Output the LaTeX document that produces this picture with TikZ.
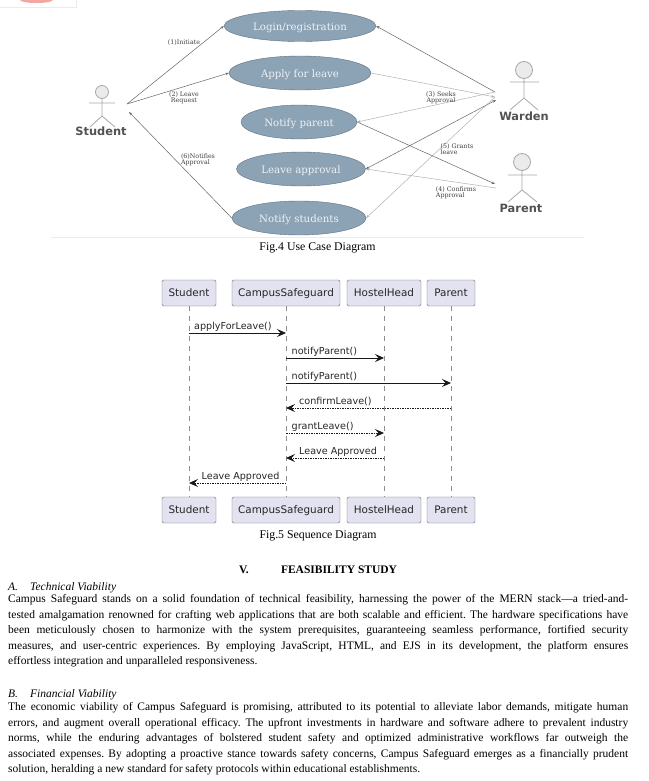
\documentclass[tikz,border=0pt]{standalone}
\usepackage{fontspec}
\usepackage{xcolor}
\setmainfont{Liberation Serif}
\newfontfamily\umlsans{DejaVu Sans}
\newfontfamily\umlserif{DejaVu Serif}
\definecolor{casecolor}{HTML}{8CA3B5}
\definecolor{caseborder}{HTML}{5E7284}
\definecolor{boxcolor}{HTML}{E2E2F0}
\definecolor{boxborder}{HTML}{6E6E78}
\definecolor{actorcolor}{HTML}{A8A8A8}
\definecolor{blobcolor}{HTML}{F4A6A0}
\colorlet{darkedge}{black!60}
\colorlet{lightedge}{black!30}
\usetikzlibrary{
  arrows.meta,
  shapes.geometric,
}
\frenchspacing

\begin{document}
\begin{tikzpicture}[x=1pt,y=-1pt]
	\tikzstyle{every node}=[inner sep=0pt]
	\tikzstyle{usecase}=[draw=caseborder, fill=casecolor, shape=ellipse, text=white!85!casecolor, text height=9.5pt, text depth=0pt, font=\umlserif\fontsize{10.2}{12}\selectfont]
	\tikzstyle{actorlabel}=[text=black!68, font=\umlsans\bfseries\fontsize{11.4}{13}\selectfont]
	\tikzstyle{edgelabel}=[text=black!75, align=left, font=\umlserif\fontsize{6.3}{6.4}\selectfont]
	\tikzstyle{actor}=[actorcolor, line width=0.8pt]
	\tikzstyle{caseedge}=[-{Stealth[length=3.5pt,width=2.5pt]}, darkedge, line width=0.5pt]
	\tikzstyle{seqbox}=[draw=boxborder, fill=boxcolor, rounded corners=1.5pt, minimum height=26pt, text=black!85, text height=8pt, text depth=2pt, font=\umlsans\fontsize{10.4}{12}\selectfont]
	\tikzstyle{lifeline}=[black!45, dash pattern=on 5pt off 5pt, line width=0.6pt]
	\tikzstyle{seqlabel}=[anchor=base west, text=black!85, font=\umlsans\fontsize{9.6}{11}\selectfont]
	\tikzstyle{seqcall}=[-{Stealth[length=9pt,width=8pt,inset=3.5pt]}, black!90, line width=0.8pt]
	\tikzstyle{seqreply}=[seqcall, dash pattern=on 1.5pt off 1pt]
	\tikzstyle{caption}=[font=\fontsize{11.8}{13}\selectfont]
	\tikzstyle{sectionhead}=[font=\bfseries\fontsize{11.5}{13}\selectfont]
	\tikzstyle{subhead}=[anchor=base west, font=\itshape\fontsize{11.5}{13}\selectfont]
	\tikzstyle{bodytext}=[anchor=north west, text width=620pt, align=justify, font=\fontsize{11.5}{15.45}\selectfont]
	\useasboundingbox (0,0) rectangle (648,781);
	\fill [white] (0,0) rectangle (648,781);
	% leftover of the picture above
	\fill [blobcolor] (20,0) arc [start angle=180, end angle=0, x radius=16.5, y radius=3];
	\draw [black!8] (0,7) -- (76,7) -- (76,0);
	% Use cases
	\node (login) [usecase, minimum width=152pt, minimum height=31pt] at (300,26) {Login/registration};
	\node (apply) [usecase, minimum width=142pt, minimum height=34pt] at (300,73) {Apply for leave};
	\node (notifyparent) [usecase, minimum width=116pt, minimum height=34pt] at (299,122) {Notify parent};
	\node (approval) [usecase, minimum width=129pt, minimum height=34pt] at (301,169) {Leave approval};
	\node (notifystudents) [usecase, minimum width=134pt, minimum height=34pt] at (299,218) {Notify students};
	\draw [black!8] (51,237) -- (584,237);
	% Actors
	\draw [actor, fill=black!8] (102,92) circle [radius=6.5];
	\draw [actor] (89,103) -- (115,103) (102,98.5) -- (102,116) (90,127) -- (102,116) -- (115,127);
	\node (student) [actorlabel] at (101,131.5) {Student};
	\draw [actor, fill=black!8] (524,70) circle [radius=8.5];
	\draw [actor] (510,82) -- (539,82) (524,78.5) -- (524,98) (510,110) -- (524,98) -- (538,110);
	\node (warden) [actorlabel] at (524,116) {Warden};
	\draw [actor, fill=black!8] (522,162) circle [radius=8.5];
	\draw [actor] (508,175) -- (537,175) (522,170.5) -- (522,190) (508,202) -- (522,190) -- (537,202);
	\node (parent) [actorlabel] at (521,208.5) {Parent};
	% Ports next to the actors
	\coordinate (studentout) at (127,104);
	\coordinate (studentin) at (129,112);
	\coordinate (wardenout) at (495,92);
	\coordinate (wardenmid) at (495,97);
	\coordinate (wardenin) at (496,100);
	\coordinate (parentin) at (495,184);
	\coordinate (parentout) at (496,188);
	% Edges
	\draw [caseedge] (studentout) -- (login.west);
	\draw [caseedge] (studentout) -- (apply.west);
	\draw [caseedge] (notifystudents.west) -- (studentin);
	\draw [caseedge] (wardenout) -- (login.east);
	\draw [caseedge, lightedge] (apply.east) -- (wardenmid);
	\draw [caseedge, lightedge] (wardenout) -- (notifyparent.east);
	\draw [caseedge, {Stealth[length=3.5pt,width=2.5pt]}-{Stealth[length=3.5pt,width=2.5pt]}] (approval.east) -- (wardenin);
	\draw [caseedge, lightedge] (wardenmid) -- (notifystudents.east);
	\draw [caseedge] (notifyparent.east) -- (parentin);
	\draw [caseedge, lightedge] (parentout) -- (approval.east);
	% Edge labels
	\node (initiate) [edgelabel] at (184,43) {(1)Initiate};
	\node (request) [edgelabel, align=center] at (184,97.5) {(2) Leave\\Request};
	\node (notifies) [edgelabel] at (198,160) {(6)Notifies\\Approval};
	\node (seeks) [edgelabel, align=center] at (441,98) {(3) Seeks\\ Approval};
	\node (grants) [edgelabel] at (457,149) {(5) Grants\\leave};
	\node (confirms) [edgelabel] at (456,193) {(4) Confirms\\Approval};
	\node (figfour) [caption] at (317.5,247.5) {Fig.4 Use Case Diagram};
	% Sequence boxes
	\node (seqstudent) [seqbox, minimum width=54pt] at (189,293) {Student};
	\node (seqcampus) [seqbox, minimum width=108pt] at (286,293) {CampusSafeguard};
	\node (seqhostel) [seqbox, minimum width=74pt] at (384,293) {HostelHead};
	\node (seqparent) [seqbox, minimum width=48pt] at (451,293) {Parent};
	\node (endstudent) [seqbox, minimum width=54pt] at (189,510) {Student};
	\node (endcampus) [seqbox, minimum width=108pt] at (286,510) {CampusSafeguard};
	\node (endhostel) [seqbox, minimum width=74pt] at (384,510) {HostelHead};
	\node (endparent) [seqbox, minimum width=48pt] at (451,510) {Parent};
	% Lifelines
	\draw [lifeline] (seqstudent) -- (endstudent);
	\draw [lifeline] (seqcampus) -- (endcampus);
	\draw [lifeline] (seqhostel) -- (endhostel);
	\draw [lifeline] (seqparent) -- (endparent);
	% Messages
	\draw [seqcall] (seqstudent |- 0,333) -- (seqcampus |- 0,333);
	\node (applylabel) [seqlabel] at (194,329) {applyForLeave()};
	\draw [seqcall] (seqcampus |- 0,358) -- (seqhostel |- 0,358);
	\node (notifylabela) [seqlabel] at (291.5,354) {notifyParent()};
	\draw [seqcall] (seqcampus |- 0,383) -- (seqparent |- 0,383);
	\node (notifylabelb) [seqlabel] at (291.5,379) {notifyParent()};
	\draw [seqreply] (seqparent |- 0,408) -- (seqcampus |- 0,408);
	\node (confirmlabel) [seqlabel] at (299,404) {confirmLeave()};
	\draw [seqreply] (seqcampus |- 0,433) -- (seqhostel |- 0,433);
	\node (grantlabel) [seqlabel] at (291.5,429) {grantLeave()};
	\draw [seqreply] (seqhostel |- 0,458) -- (seqcampus |- 0,458);
	\node (approvedlabela) [seqlabel] at (299,454) {Leave Approved};
	\draw [seqreply] (seqcampus |- 0,483) -- (seqstudent |- 0,483);
	\node (approvedlabelb) [seqlabel] at (201.5,479) {Leave Approved};
	\node (figfive) [caption] at (318,536) {Fig.5 Sequence Diagram};
	% Section text
	\node (sectionno) [sectionhead] at (244,570) {V.};
	\node (sectionname) [sectionhead] at (339,570) {FEASIBILITY STUDY};
	\node (headA) [subhead] at (8,590) {A.};
	\node (nameA) [subhead] at (30,590) {Technical Viability};
	\node (bodyA) [bodytext] at (8,594.5) {Campus Safeguard stands on a solid foundation of technical feasibility, harnessing the power of the MERN stack---a tried-and-\linebreak tested amalgamation renowned for crafting web applications that are both scalable and efficient. The hardware specifications have\linebreak been meticulously chosen to harmonize with the system prerequisites, guaranteeing seamless performance, fortified security\linebreak measures, and user-centric experiences. By employing JavaScript, HTML, and EJS in its development, the platform ensures\linebreak effortless integration and unparalleled responsiveness.};
	\node (headB) [subhead] at (8,697) {B.};
	\node (nameB) [subhead] at (30,697) {Financial Viability};
	\node (bodyB) [bodytext] at (8,702.5) {The economic viability of Campus Safeguard is promising, attributed to its potential to alleviate labor demands, mitigate human\linebreak errors, and augment overall operational efficacy. The upfront investments in hardware and software adhere to prevalent industry\linebreak norms, while the enduring advantages of bolstered student safety and optimized administrative workflows far outweigh the\linebreak associated expenses. By adopting a proactive stance towards safety concerns, Campus Safeguard emerges as a financially prudent\linebreak solution, heralding a new standard for safety protocols within educational establishments.};
\end{tikzpicture}
\end{document}
